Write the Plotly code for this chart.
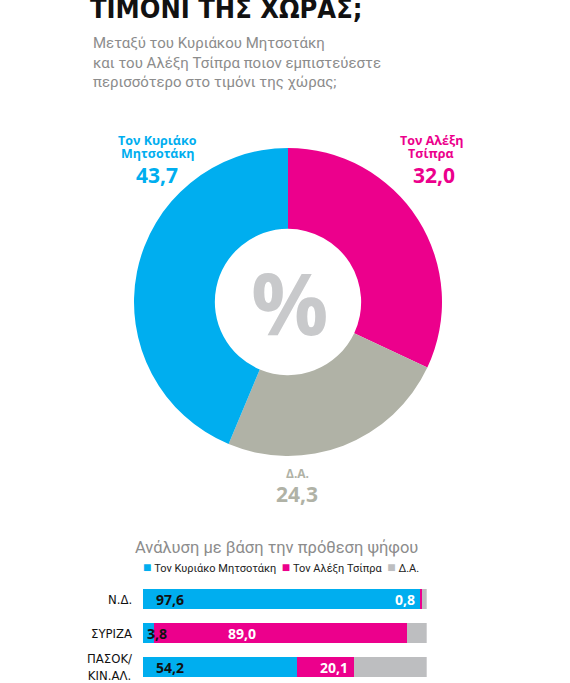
import plotly.graph_objects as go

# donut data (clockwise from 12 o'clock)
donut_labels = ['Τον Αλέξη Τσίπρα', 'Δ.Α.', 'Τον Κυριάκο Μητσοτάκη']
donut_values = [32.0, 24.3, 43.7]

# breakdown by vote intention
parties = ['Ν.Δ.', 'ΣΥΡΙΖΑ', 'ΠΑΣΟΚ/<br>ΚΙΝ.ΑΛ.']
mitsotakis = [97.6, 3.8, 54.2]
tsipras = [0.8, 89.0, 20.1]
da = [1.6, 7.2, 25.7]

BLUE = '#00AEEF'
PINK = '#EC008C'
GREY_PIE = '#B0B2A6'
GREY_BAR = '#BDBEC0'
W, H = 570, 683


def px(x):
    return x / W


def py(y):
    return 1 - y / H


def fmt(v):
    return f'{v:.1f}'.replace('.', ',')


fig = go.Figure()

fig.add_trace(go.Pie(
    labels=donut_labels, values=donut_values,
    marker=dict(colors=[PINK, GREY_PIE, BLUE]),
    hole=0.475, sort=False, direction='clockwise', rotation=0,
    textinfo='none', showlegend=False,
    domain=dict(x=[px(134), px(442)], y=[py(456), py(148)]),
))

for name, vals, col in [('Τον Κυριάκο Μητσοτάκη', mitsotakis, BLUE),
                        ('Τον Αλέξη Τσίπρα', tsipras, PINK),
                        ('Δ.Α.', da, GREY_BAR)]:
    fig.add_trace(go.Bar(
        y=parties, x=vals, orientation='h', name=name,
        marker=dict(color=col, line=dict(width=0)),
        width=0.59, showlegend=False, hoverinfo='x+name',
    ))

ann = []
bold = 'Open Sans'
narrow = 'DejaVu Sans Condensed'

# title and subtitle
ann.append(dict(text='<b>ΤΙΜΟΝΙ ΤΗΣ ΧΩΡΑΣ;</b>', x=px(88), y=py(26), xanchor='left',
                yanchor='bottom', font=dict(family=narrow, size=27, color='#111')))
subtitle = ['Μεταξύ του Κυριάκου Μητσοτάκη',
            'και του Αλέξη Τσίπρα ποιον εμπιστεύεστε',
            'περισσότερο στο τιμόνι της χώρας;']
for i, line in enumerate(subtitle):
    ann.append(dict(text=line, x=px(91), y=py(43 + 19.7 * i), xanchor='left',
                    font=dict(family='Roboto', size=15, color='#8C8C8C')))

# donut labels, one line each so they sit as tightly as in print
for lines, x, col, val, vx in [(['Τον Κυριάκο', 'Μητσοτάκη'], 157, BLUE, donut_values[2], 157),
                               (['Τον Αλέξη', 'Τσίπρα'], 431, PINK, donut_values[0], 434)]:
    for k, line in enumerate(lines):
        ann.append(dict(text=f'<b>{line}</b>', x=px(x), y=py(140 + 13 * k),
                        font=dict(family=bold, size=12.5, color=col)))
    ann.append(dict(text=f'<b>{fmt(val)}</b>', x=px(vx), y=py(175), font=dict(family=bold, size=21, color=col)))
ann += [
    dict(text='<b>Δ.Α.</b>', x=px(297), y=py(473), font=dict(family=bold, size=12, color=GREY_PIE)),
    dict(text=f'<b>{fmt(donut_values[1])}</b>', x=px(297), y=py(494), font=dict(family=bold, size=21, color=GREY_PIE)),
    dict(text='<b>%</b>', x=px(289), y=py(301), font=dict(family=bold, size=86, color='#C8C9CB')),
]

# bar heading and legend
ann.append(dict(text='Ανάλυση με βάση την πρόθεση ψήφου', x=px(276), y=py(547),
                font=dict(family='Roboto', size=16.5, color='#8C8C8C')))
sp = '&nbsp;' * 2
sq = '<span style="color:{};font-size:14px">■</span>'
legend = (f'{sq.format(BLUE)} Τον Κυριάκο Μητσοτάκη{sp}'
          f'{sq.format(PINK)} Τον Αλέξη Τσίπρα{sp}'
          f'{sq.format(GREY_BAR)} Δ.Α.')
ann.append(dict(text=legend, x=px(281), y=py(567), font=dict(family='Roboto', size=11, color='#222')))

# category labels and values on bars
for i, p in enumerate(parties):
    ann.append(dict(text=p, xref='paper', x=px(134), yref='y', y=i, xanchor='right',
                    font=dict(family=narrow, size=13, color='#111')))
    b, t, d = mitsotakis[i], tsipras[i], da[i]
    ann.append(dict(text=f'<b>{fmt(b)}</b>', xref='x', yref='y', x=4 if b > 10 else 0.8, y=i,
                    xanchor='left', font=dict(family=bold, size=14, color='#111')))
    if t < 3:
        ann.append(dict(text=f'<b>{fmt(t)}</b>', xref='x', yref='y', x=b - 1, y=i,
                        xanchor='right', font=dict(family=bold, size=14, color='white')))
    else:
        ann.append(dict(text=f'<b>{fmt(t)}</b>', xref='x', yref='y', x=b + min(t * 0.65, 31), y=i,
                        font=dict(family=bold, size=14, color='white')))
    ann.append(dict(text=f'<b>{fmt(d)}</b>', xref='x', yref='y', x=102.5, y=i,
                    xanchor='left', font=dict(family=bold, size=14, color='#111')))

for a in ann:
    a.setdefault('xref', 'paper')
    a.setdefault('yref', 'paper')
    a.setdefault('xanchor', 'center')
    a.setdefault('yanchor', 'middle')
    a.setdefault('showarrow', False)

fig.update_layout(
    width=W, height=H, margin=dict(l=0, r=0, t=0, b=0),
    paper_bgcolor='white', plot_bgcolor='white',
    barmode='stack', bargap=0,
    xaxis=dict(domain=[px(142.7), px(426.7)], range=[0, 100], visible=False, fixedrange=True),
    yaxis=dict(domain=[0, py(582)], range=[2.97 - 0.5, -0.5], visible=False, fixedrange=True),
    annotations=ann,
)

# the page has a default 8px body margin; drop it so the figure fills the window
fig.write_html('out.html', config={'displayModeBar': False},
               post_script="document.body.style.margin='0';")
